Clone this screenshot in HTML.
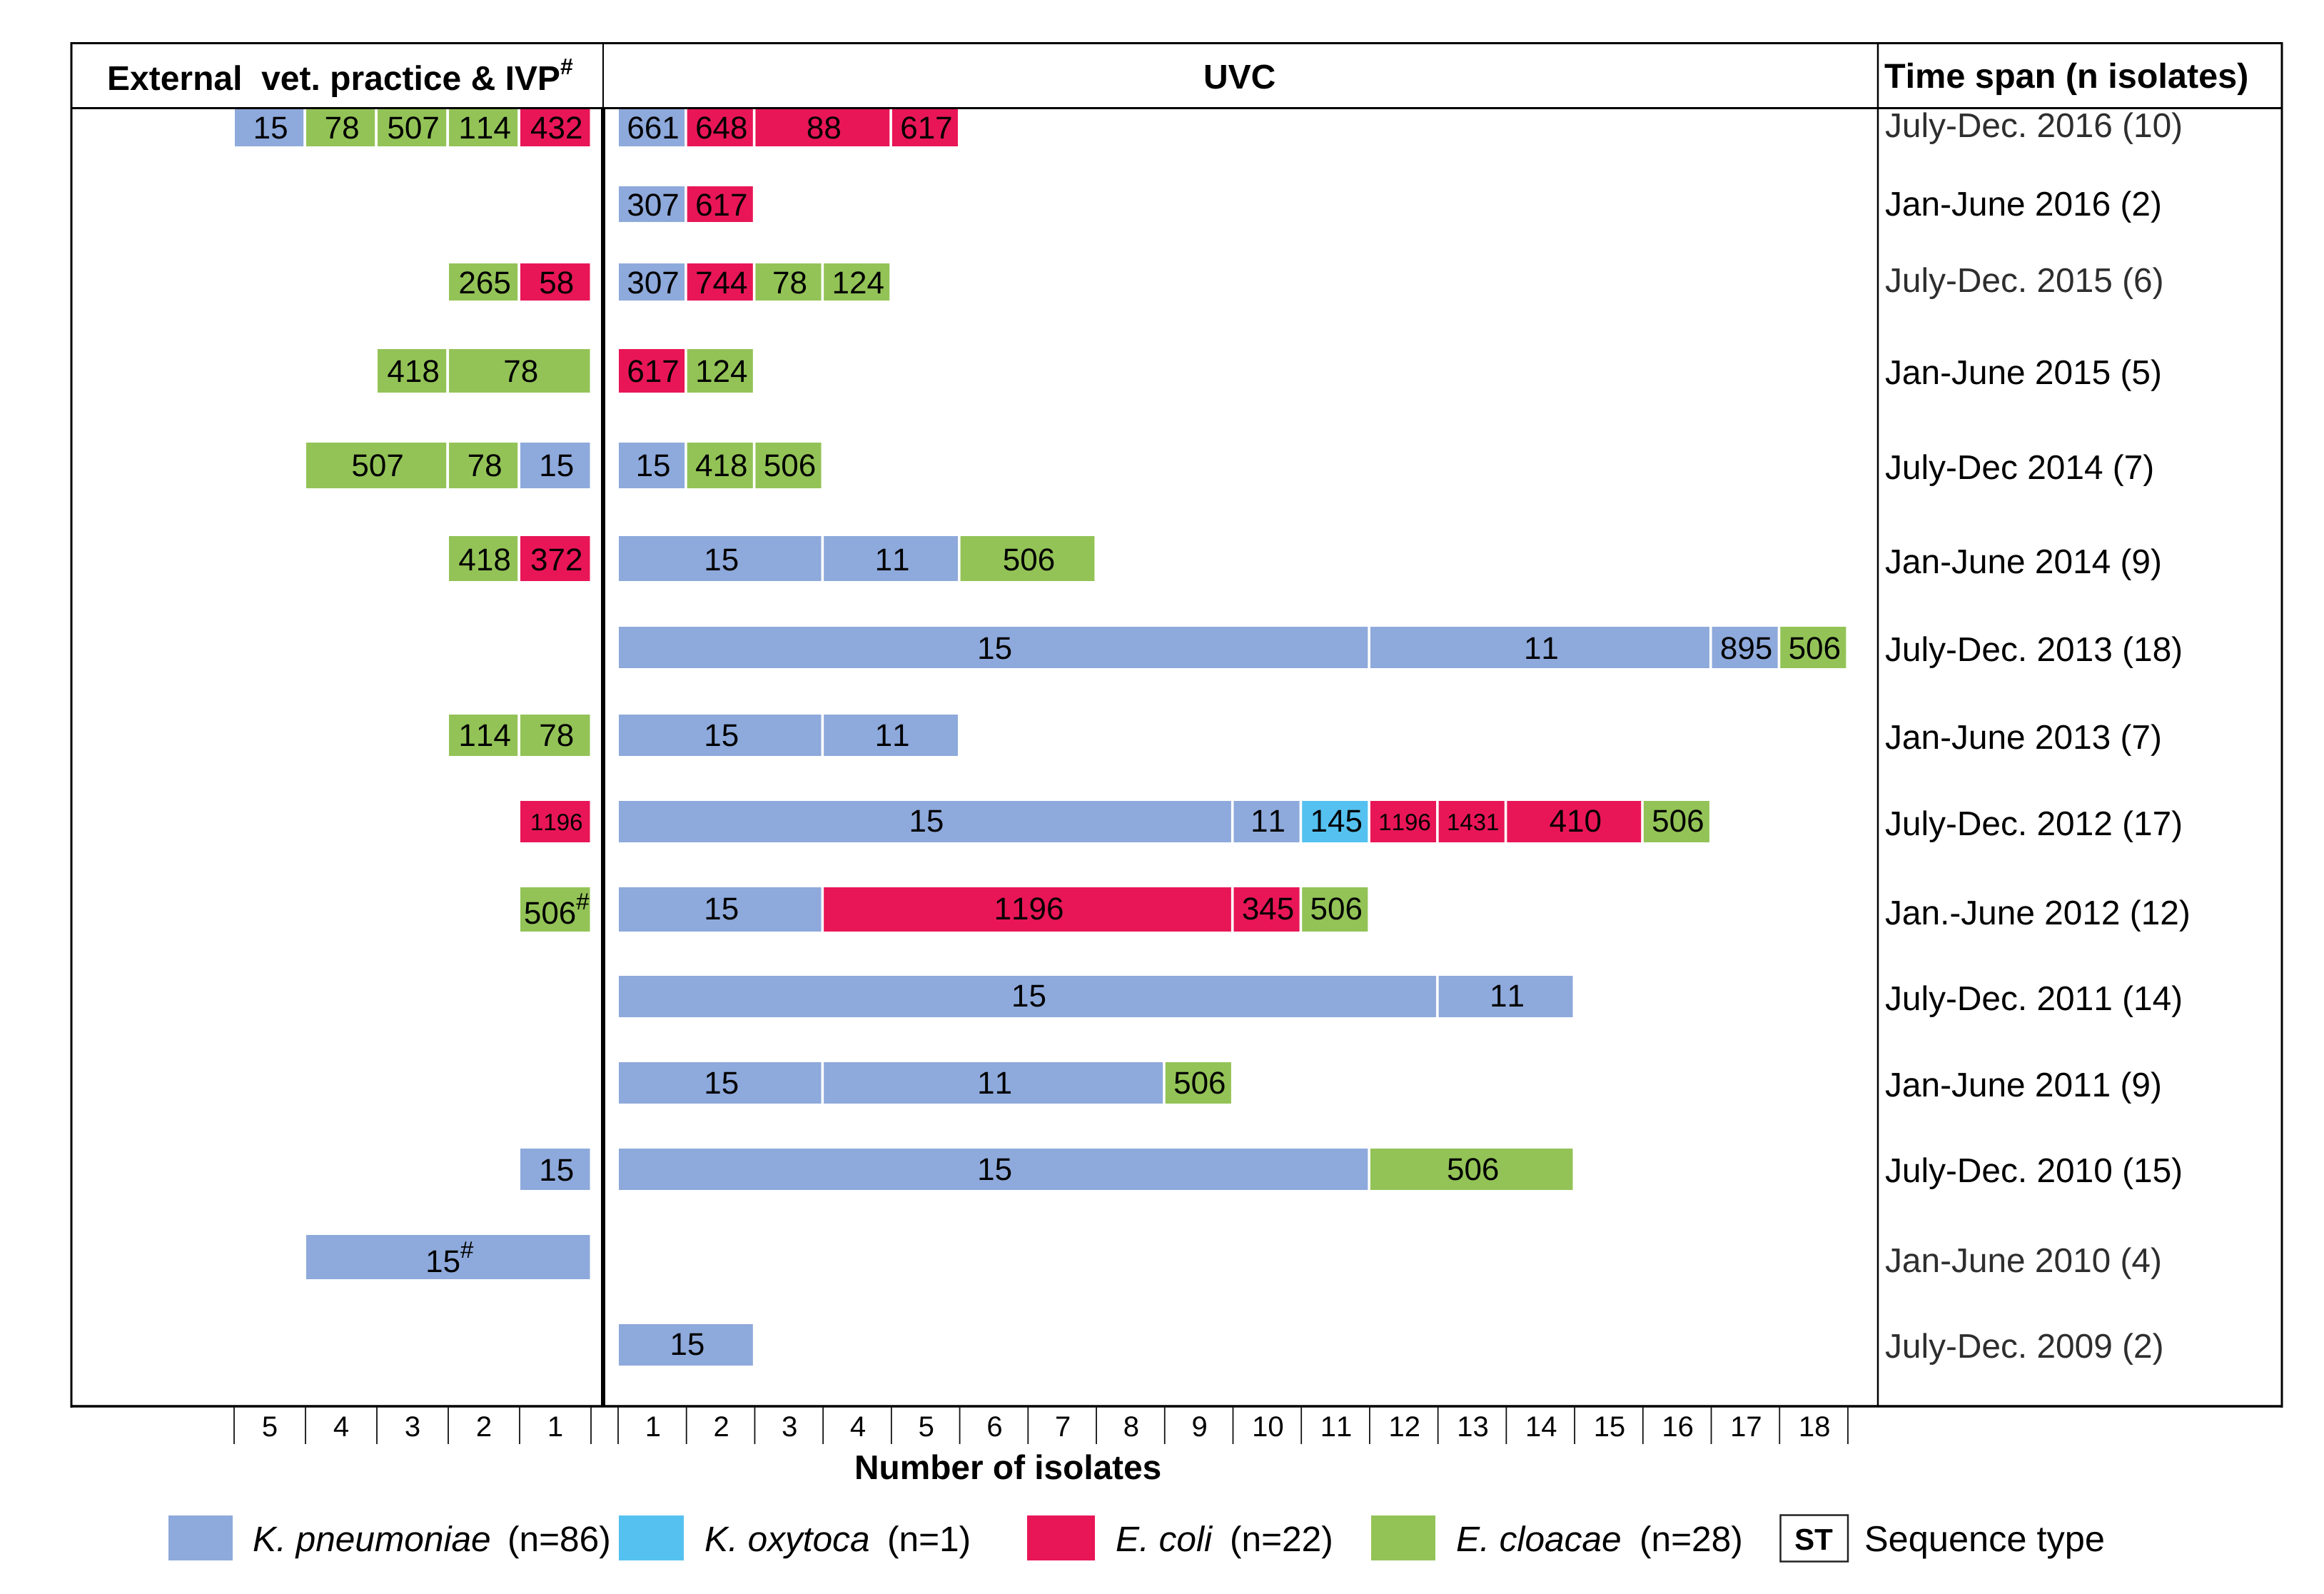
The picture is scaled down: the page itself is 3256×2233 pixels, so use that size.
<!DOCTYPE html>
<html lang="en">
<head>
<meta charset="utf-8">
<title>Isolates by sequence type and time span</title>
<style>
html,body{margin:0;padding:0;background:#fff;width:3256px;height:2233px;overflow:hidden}
svg{display:block}
text{font-family:"Liberation Sans",Arial,sans-serif;fill:#000;white-space:pre;font-kerning:none;text-rendering:geometricPrecision}
.b{font-weight:700}
.i{font-style:italic}
</style>
</head>
<body>
<svg id="chart" xmlns="http://www.w3.org/2000/svg" width="3256" height="2233" viewBox="0 0 3256 2233">
  <rect x="0" y="0" width="3256" height="2233" fill="#fff"/>
  <g id="bars"></g>
  <g id="frame" stroke="#000" fill="none">
    <line x1="99" y1="60.5" x2="3198" y2="60.5" stroke-width="3"/>
    <line x1="100" y1="59" x2="100" y2="1972" stroke-width="3"/>
    <line x1="3197" y1="59" x2="3197" y2="1972" stroke-width="3"/>
    <line x1="99" y1="1970" x2="3198" y2="1970" stroke-width="3.5"/>
    <line x1="100" y1="151.5" x2="3197" y2="151.5" stroke-width="3"/>
    <line x1="845" y1="60" x2="845" y2="151" stroke-width="2"/>
    <line x1="845" y1="151" x2="845" y2="1970" stroke-width="6"/>
    <line x1="2631" y1="60" x2="2631" y2="1970" stroke-width="2.5"/>
  </g>
  <text class="b" x="150" y="126" font-size="48">External  vet. practice &amp; IVP<tspan font-size="32" dy="-22">#</tspan></text>
  <text class="b" x="1686" y="124" font-size="48">UVC</text>
  <text class="b" x="2640" y="123" font-size="48.6">Time span (n isolates)</text>
  <g id="periods"></g>
  <g id="ticks"></g>
  <text class="b" x="1197" y="2072" font-size="47.8">Number of isolates</text>
  <g>
    <rect x="236" y="2123" width="90" height="63" fill="#8ea9db"/>
    <text class="i" x="354" y="2173" font-size="49.6">K. pneumoniae</text>
    <text x="711" y="2173" font-size="49.6">(n=86)</text>
    <rect x="867" y="2123" width="91" height="63" fill="#55c1f0"/>
    <text class="i" x="987" y="2173" font-size="49.6">K. oxytoca</text>
    <text x="1243" y="2173" font-size="49.6">(n=1)</text>
    <rect x="1439" y="2123" width="95" height="63" fill="#e81657"/>
    <text class="i" x="1563" y="2173" font-size="49.6">E. coli</text>
    <text x="1723" y="2173" font-size="49.6">(n=22)</text>
    <rect x="1921" y="2123" width="90" height="63" fill="#93c357"/>
    <text class="i" x="2040" y="2173" font-size="49.6">E. cloacae</text>
    <text x="2297" y="2173" font-size="49.6">(n=28)</text>
    <rect x="2494.5" y="2122.5" width="94.5" height="65" fill="#fff" stroke="#222" stroke-width="2.5"/>
    <text class="b" x="2541" y="2171" font-size="42" text-anchor="middle">ST</text>
    <text x="2612" y="2173" font-size="50.5">Sequence type</text>
  </g>
</svg>
<script>
// Data: time spans, top row first
const periods = ["July-Dec. 2016 (10)","Jan-June 2016 (2)","July-Dec. 2015 (6)","Jan-June 2015 (5)","July-Dec 2014 (7)","Jan-June 2014 (9)","July-Dec. 2013 (18)","Jan-June 2013 (7)","July-Dec. 2012 (17)","Jan.-June 2012 (12)","July-Dec. 2011 (14)","Jan-June 2011 (9)","July-Dec. 2010 (15)","Jan-June 2010 (4)","July-Dec. 2009 (2)"];

// External vet. practice & IVP panel, listed left to right
const vetSequenceTypes = [["15","78","507","114","432"],[],["265","58"],["418","78"],["507","78","15"],["418","372"],[],["114","78"],["1196"],["506#"],[],[],["15"],["15#"],[]];
const vetCounts = [[1,1,1,1,1],[],[1,1],[1,2],[2,1,1],[1,1],[],[1,1],[1],[1],[],[],[1],[4],[]];
const vetSpecies = [["kp","ecl","ecl","ecl","ec"],[],["ecl","ec"],["ecl","ecl"],["ecl","ecl","kp"],["ecl","ec"],[],["ecl","ecl"],["ec"],["ecl"],[],[],["kp"],["kp"],[]];

// UVC panel, listed left to right
const uvcSequenceTypes = [["661","648","88","617"],["307","617"],["307","744","78","124"],["617","124"],["15","418","506"],["15","11","506"],["15","11","895","506"],["15","11"],["15","11","145","1196","1431","410","506"],["15","1196","345","506"],["15","11"],["15","11","506"],["15","506"],[],["15"]];
const uvcCounts = [[1,1,2,1],[1,1],[1,1,1,1],[1,1],[1,1,1],[3,2,2],[11,5,1,1],[3,2],[9,1,1,1,1,2,1],[3,6,1,1],[12,2],[3,5,1],[11,3],[],[2]];
const uvcSpecies = [["kp","ec","ec","ec"],["kp","ec"],["kp","ec","ecl","ecl"],["ec","ecl"],["kp","ecl","ecl"],["kp","kp","ecl"],["kp","kp","kp","ecl"],["kp","kp"],["kp","kp","ko","ec","ec","ec","ecl"],["kp","ec","ec","ecl"],["kp","kp"],["kp","kp","ecl"],["kp","ecl"],[],["kp"]];

// Axis tick labels
const vetTickLabels = [5,4,3,2,1];
const uvcTickLabels = [1,2,3,4,5,6,7,8,9,10,11,12,13,14,15,16,17,18];

(function () {
  const NS = 'http://www.w3.org/2000/svg';
  const colors = { kp: '#8ea9db', ko: '#55c1f0', ec: '#e81657', ecl: '#93c357' };
  const xVet = function (n) { return 828 - 100 * n; };
  const xUvc = function (n) { return 866 + 95.72 * n; };
  // Row layout: the reference spaces its rows by hand
  const layout = [
    [151,205,194,194,192],[261,311,302,302,302],[369,421,411,411,409],[489,550,535,535,538],
    [620,684,667,667,671],[751,814,799,799,803],[878,936,923,923,926],[1001,1059,1045,1045,1049],
    [1122,1180,1165,1165,1170],[1243,1305,1288,1294,1295],[1367,1425,1410,1410,1415],[1488,1546,1532,1532,1536],
    [1609,1667,1653,1654,1656],[1730,1792,1782,1782,1782],[1855,1913,1898,1898,1902]
  ];
  const barsGroup = document.getElementById('bars');
  const periodsGroup = document.getElementById('periods');
  const ticksGroup = document.getElementById('ticks');

  function drawSegment(panel, row, x1, x2, species, label, baseline) {
    const rect = document.createElementNS(NS, 'rect');
    
    
    rect.setAttribute('x', x1);
    rect.setAttribute('y', layout[row][0]);
    rect.setAttribute('width', Math.max(0, x2 - x1));
    rect.setAttribute('height', layout[row][1] - layout[row][0]);
    rect.setAttribute('fill', colors[species]);
    barsGroup.appendChild(rect);

    const hasMark = label.indexOf('#') >= 0;
    const digits = label.replace('#', '');
    const small = digits.length >= 4 && (x2 - x1) < 110;
    const text = document.createElementNS(NS, 'text');
    
    
    text.setAttribute('x', (x1 + x2) / 2 + 2);
    text.setAttribute('y', small ? baseline - 2 : baseline);
    text.setAttribute('font-size', small ? 33 : 44);
    text.setAttribute('text-anchor', 'middle');
    text.textContent = digits;
    if (hasMark) {
      const mark = document.createElementNS(NS, 'tspan');
      
      
      mark.setAttribute('font-size', 33);
      mark.setAttribute('dy', -20);
      mark.textContent = '#';
      text.appendChild(mark);
    }
    barsGroup.appendChild(text);
  }

  periods.forEach(function (period, row) {
    let remaining = vetCounts[row].reduce(function (a, b) { return a + b; }, 0);
    vetCounts[row].forEach(function (count, i) {
      const x1 = xVet(remaining) + 1;
      const x2 = xVet(remaining - count) - (remaining - count === 0 ? 1.5 : 2.8);
      drawSegment('vet', row, x1, x2, vetSpecies[row][i], vetSequenceTypes[row][i], layout[row][3]);
      remaining -= count;
    });

    let used = 0;
    uvcCounts[row].forEach(function (count, i) {
      const x1 = xUvc(used) + 1;
      const x2 = xUvc(used + count) - 2.6;
      drawSegment('uvc', row, x1, x2, uvcSpecies[row][i], uvcSequenceTypes[row][i], layout[row][2]);
      used += count;
    });

    const label = document.createElementNS(NS, 'text');
    
    
    label.setAttribute('x', 2641);
    label.setAttribute('y', layout[row][4]);
    label.setAttribute('font-size', 47.8);
    label.style.fill = (row === 0 || row === 2 || row === 13 || row === 14) ? '#2e2e2e' : '#000';
    label.textContent = period;
    periodsGroup.appendChild(label);
  });

  function drawTick(x) {
    const tick = document.createElementNS(NS, 'line');
    
    
    tick.setAttribute('x1', x);
    tick.setAttribute('x2', x);
    tick.setAttribute('y1', 1971);
    tick.setAttribute('y2', 2023);
    tick.setAttribute('stroke', '#111');
    tick.setAttribute('stroke-width', 1.8);
    ticksGroup.appendChild(tick);
  }
  function drawTickLabel(x, value) {
    const t = document.createElementNS(NS, 'text');
    
    
    t.setAttribute('x', x);
    t.setAttribute('y', 2012);
    t.setAttribute('font-size', 40);
    t.setAttribute('text-anchor', 'middle');
    t.textContent = value;
    ticksGroup.appendChild(t);
  }

  drawTick(xVet(0));
  vetTickLabels.forEach(function (v) {
    drawTick(xVet(v));
    drawTickLabel(xVet(v - 0.5), v);
  });
  drawTick(xUvc(0));
  uvcTickLabels.forEach(function (v) {
    drawTick(xUvc(v));
    drawTickLabel(xUvc(v - 0.5) + 1, v);
  });
})();
</script>
</body>
</html>
